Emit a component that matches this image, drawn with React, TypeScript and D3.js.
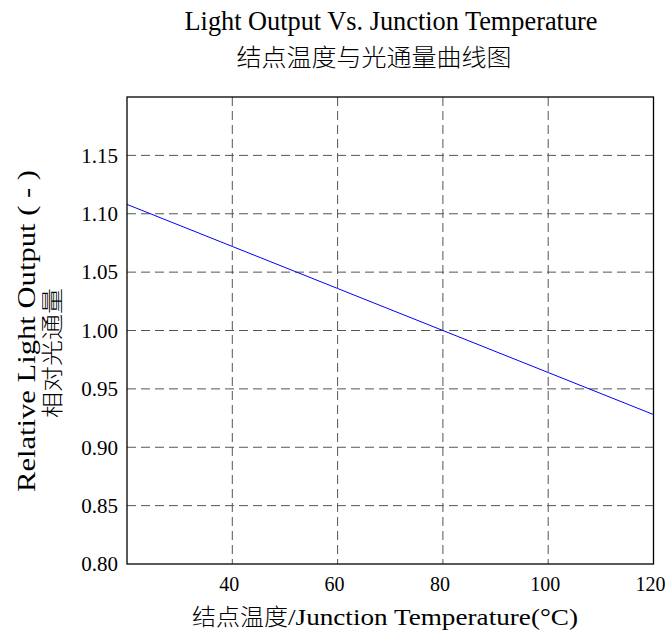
import * as d3 from 'd3';

const temps = [20, 40, 60, 80, 100, 120];
const output = [1.108, 1.072, 1.036, 1.0, 0.964, 0.928];
const xTicks = [40, 60, 80, 100, 120];
const yTicks = [0.8, 0.85, 0.9, 0.95, 1.0, 1.05, 1.1, 1.15];

const W = 668;
const H = 638;
const serif = '"Liberation Serif", "Times New Roman", serif';
const cjk = '"Noto Sans CJK SC", sans-serif';

export default function App() {
  const x = d3.scaleLinear().domain([20, 120]).range([127, 653.5]);
  const y = d3.scaleLinear().domain([0.8, 1.2]).range([564, 97]);

  const line = d3
    .line<number>()
    .x((_, i) => x(temps[i]))
    .y(d => y(d));

  const [x0, x1] = x.range();
  const [y0, y1] = y.range();

  return (
    <svg
      width={W}
      height={H}
      style={{ position: 'absolute', left: 0, top: 0, background: '#fff' }}
    >
      <text x={391} y={30} textAnchor="middle" fontFamily={serif} fontSize={27}
        textLength={413} lengthAdjust="spacingAndGlyphs">
        Light Output Vs. Junction Temperature
      </text>
      <text x={374} y={66} textAnchor="middle" fontFamily={cjk} fontSize={24}
        fontWeight={300} textLength={275} lengthAdjust="spacingAndGlyphs">
        结点温度与光通量曲线图
      </text>

      {/* grid */}
      {xTicks.filter(t => t < 120).map(t => (
        <line key={'gx' + t} x1={x(t)} x2={x(t)} y1={y1} y2={y0}
          stroke="#555" strokeWidth={1} strokeDasharray="9,5" />
      ))}
      {yTicks.filter(t => t > 0.8).map(t => (
        <line key={'gy' + t} x1={x0} x2={x1} y1={y(t)} y2={y(t)}
          stroke="#555" strokeWidth={1} strokeDasharray="9,5" />
      ))}

      <path d={line(output) ?? ''} fill="none" stroke="#0000ff" strokeWidth={1} />

      <rect x={x0} y={y1} width={x1 - x0} height={y0 - y1}
        fill="none" stroke="#000" strokeWidth={1.3} />

      {yTicks.map(t => (
        <text key={'ty' + t} x={x0 - 9} y={y(t)} dy="0.35em" textAnchor="end"
          fontFamily={serif} fontSize={21}>
          {d3.format('.2f')(t)}
        </text>
      ))}
      {xTicks.map(t => (
        <text key={'tx' + t} x={x(t) - 3} y={591} textAnchor="middle"
          fontFamily={serif} fontSize={20}>
          {t}
        </text>
      ))}

      <text x={192} y={625} fontSize={23}>
        <tspan fontFamily={cjk} fontWeight={300} textLength={96}
          lengthAdjust="spacingAndGlyphs">结点温度</tspan>
        <tspan fontFamily={serif} textLength={290}
          lengthAdjust="spacingAndGlyphs">/Junction Temperature(°C)</tspan>
      </text>

      <text transform="translate(35,331) rotate(-90)" textAnchor="middle"
        fontFamily={serif} fontSize={26} textLength={322} lengthAdjust="spacingAndGlyphs">
        Relative Light Output ( - )
      </text>
      <text transform="translate(60,353) rotate(-90)" textAnchor="middle"
        fontFamily={cjk} fontSize={22} fontWeight={300} textLength={130}
        lengthAdjust="spacingAndGlyphs">
        相对光通量
      </text>
    </svg>
  );
}
